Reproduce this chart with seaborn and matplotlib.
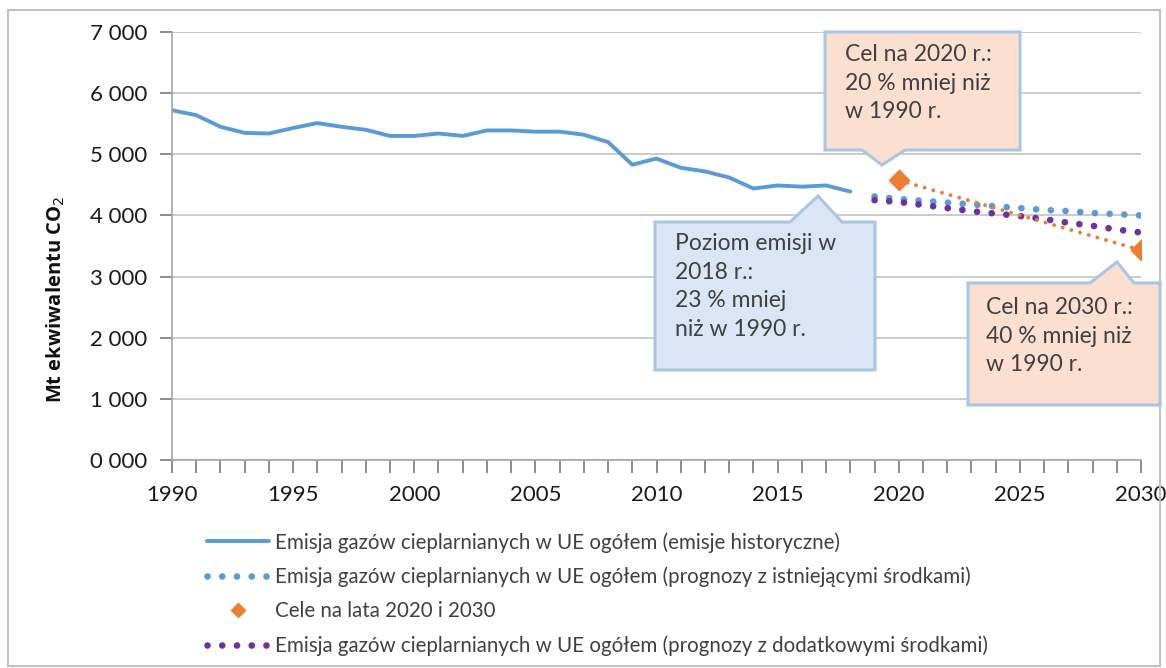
import matplotlib
matplotlib.use('Agg')
import matplotlib.pyplot as plt
import matplotlib.patches as mpatches
from matplotlib.lines import Line2D
from matplotlib.ticker import MultipleLocator, FuncFormatter
import seaborn as sns

# dane
lata_hist = list(range(1990, 2019))
emisje_hist = [5720, 5640, 5450, 5350, 5340, 5430, 5510, 5450, 5400, 5300,
               5300, 5340, 5300, 5390, 5390, 5370, 5370, 5320, 5200, 4830,
               4930, 4780, 4720, 4620, 4440, 4490, 4470, 4490, 4390]

lata_prog = list(range(2019, 2031))
prognoza_wem = [4310, 4270, 4240, 4210, 4180, 4150, 4120, 4090, 4070, 4040, 4020, 4000]
prognoza_wam = [4250, 4220, 4170, 4120, 4070, 4030, 3990, 3940, 3880, 3830, 3770, 3720]

lata_cele = [2020, 2030]
cele = [4576, 3432]

etykiety = [
    'Emisja gazów cieplarnianych w UE ogółem (emisje historyczne)',
    'Emisja gazów cieplarnianych w UE ogółem (prognozy z istniejącymi środkami)',
    'Cele na lata 2020 i 2030',
    'Emisja gazów cieplarnianych w UE ogółem (prognozy z dodatkowymi środkami)',
]

NIEBIESKI = '#5b9bd5'
FIOLET = '#7030a0'
POMARANCZ = '#ed7d31'
TEKST = '#404040'
OS = '#8c8c8c'

sns.set_style('ticks')
plt.rcParams['font.family'] = ['Lato', 'DejaVu Sans']

W, H = 1166, 668
fig = plt.figure(figsize=(W / 100, H / 100), dpi=100)
ax = fig.add_axes([172 / W, 1 - 460 / H, (1141 - 172) / W, (460 - 32) / H])

kropki = (0, (0.01, 2.2))
sns.lineplot(x=lata_hist, y=emisje_hist, ax=ax, color=NIEBIESKI, lw=2.8)
sns.lineplot(x=lata_prog, y=prognoza_wem, ax=ax, color=NIEBIESKI, lw=4.8,
             linestyle=kropki, dash_capstyle='round')
sns.lineplot(x=lata_prog, y=prognoza_wam, ax=ax, color=FIOLET, lw=4.8,
             linestyle=kropki, dash_capstyle='round')
sns.lineplot(x=lata_cele, y=cele, ax=ax, color=POMARANCZ, lw=2.8,
             linestyle=(0, (0.01, 2.3)), dash_capstyle='round')
sns.scatterplot(x=lata_cele, y=cele, ax=ax, marker='D', s=110, color=POMARANCZ,
                edgecolor=POMARANCZ, zorder=5)

ax.set_xlim(1990, 2030)
ax.set_ylim(0, 7000)
ax.xaxis.set_major_locator(MultipleLocator(5))
ax.xaxis.set_minor_locator(MultipleLocator(1))
ax.yaxis.set_major_locator(MultipleLocator(1000))
ax.yaxis.set_major_formatter(FuncFormatter(lambda v, p: f'{int(v) // 1000} {int(v) % 1000:03d}'))
ax.grid(axis='y', color='#c8c8c8', lw=1.3, zorder=0)
for s in ['top', 'right']:
    ax.spines[s].set_visible(False)
for s in ['left', 'bottom']:
    ax.spines[s].set_color('#a6a6a6')
    ax.spines[s].set_linewidth(1.2)
ax.tick_params(axis='both', which='major', direction='out', length=9, width=1.4,
               color=OS, labelsize=16, labelcolor='#1a1a1a', pad=9)
ax.tick_params(axis='x', which='minor', direction='out', length=9, width=1.4, color=OS)
ax.set_ylabel('Mt ekwiwalentu CO$_2$', fontsize=14.5, fontweight='bold',
              family=['Open Sans', 'DejaVu Sans'], color='#111111')
ax.yaxis.set_label_coords(-0.108, 0.374)
ax.set_xlabel('')

# legenda
uchwyty = [
    Line2D([], [], color=NIEBIESKI, lw=2.8),
    Line2D([], [], color=NIEBIESKI, lw=4.8, linestyle=kropki, dash_capstyle='round'),
    Line2D([], [], color=POMARANCZ, marker='D', markersize=7, lw=0),
    Line2D([], [], color=FIOLET, lw=4.8, linestyle=kropki, dash_capstyle='round'),
]
fig.legend(uchwyty, etykiety, loc='upper left', bbox_to_anchor=(207 / W, 1 - 532 / H),
           frameon=False, fontsize=14.8, handlelength=3.0, handletextpad=0.3,
           labelspacing=0.68, labelcolor=TEKST, borderaxespad=0, borderpad=0)


# dymki z opisami (wspolrzedne w pikselach obrazu)
def dymek(x0, x1, y0, y1, baza, szpic, gora, kolor):
    bx0, bx1 = baza
    if gora:
        pts = [(x0, y0), (bx0, y0), szpic, (bx1, y0), (x1, y0), (x1, y1), (x0, y1)]
    else:
        pts = [(x0, y0), (x1, y0), (x1, y1), (bx1, y1), szpic, (bx0, y1), (x0, y1)]
    pts = [(x / W, 1 - y / H) for x, y in pts]
    fig.patches.append(mpatches.Polygon(pts, closed=True, transform=fig.transFigure,
                                        facecolor=kolor, edgecolor='#a9c6e3', lw=2.2,
                                        zorder=3))


styl = dict(ha='left', va='top', fontsize=16.5, color=TEKST, linespacing=1.45, zorder=4)

dymek(655, 875, 222, 370, (790, 842), (818, 196), True, '#dae6f5')
fig.text(675 / W, 1 - 233 / H, 'Poziom emisji w\n2018 r.:\n23 % mniej\nniż w 1990 r.', **styl)

dymek(825, 1020, 32, 150, (862, 905), (882, 165), False, '#fbe0d2')
fig.text(845 / W, 1 - 44 / H, 'Cel na 2020 r.:\n20 % mniej niż\nw 1990 r.', **styl)

dymek(968, 1160, 283, 405, (1090, 1134), (1117, 262), True, '#fbe0d2')
fig.text(986 / W, 1 - 297 / H, 'Cel na 2030 r.:\n40 % mniej niż\nw 1990 r.', **styl)

# ramka calego rysunku
fig.patches.append(mpatches.Rectangle((8 / W, 1 - 666 / H), (1160 - 8) / W, (666 - 10) / H,
                                      transform=fig.transFigure, fill=False,
                                      edgecolor='#c0c0c0', lw=1.5, zorder=0))

fig.savefig('out.png', dpi=100)
